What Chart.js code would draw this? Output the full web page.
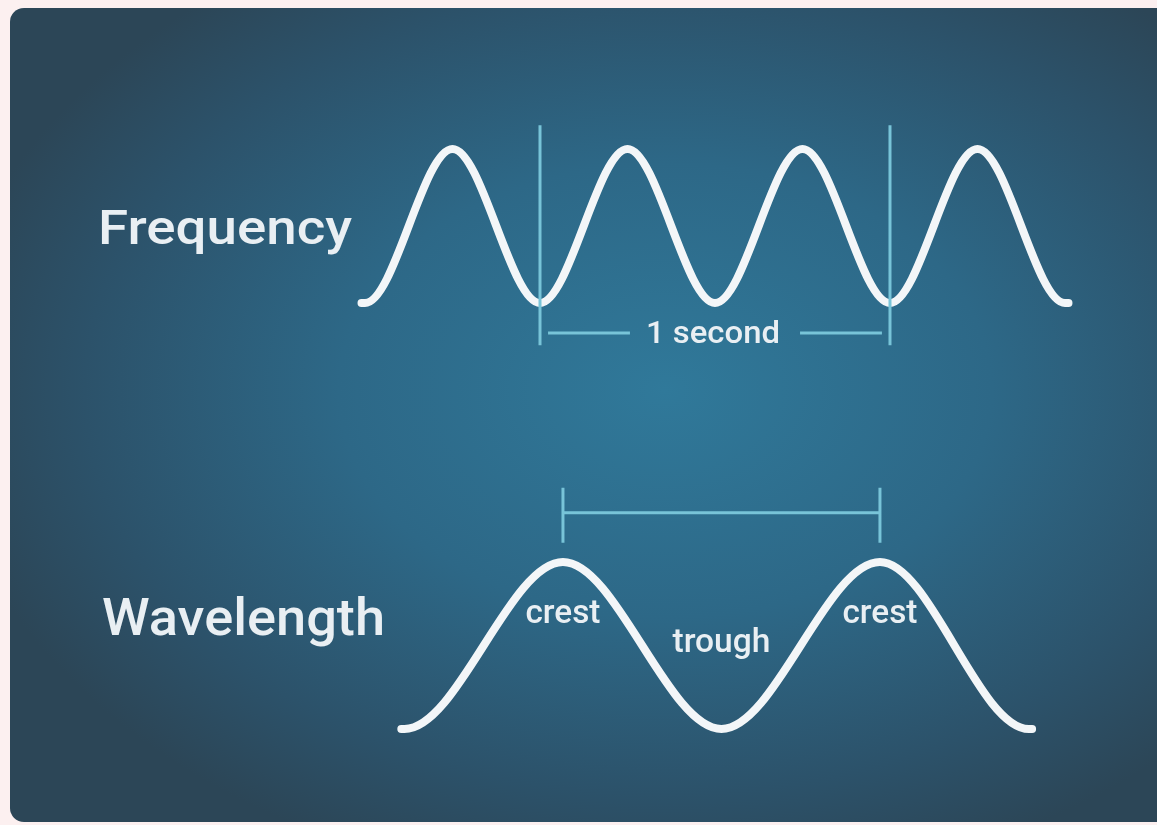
<!DOCTYPE html>
<html>
<head>
<meta charset="utf-8">
<title>Frequency and Wavelength</title>
<script src="https://cdn.jsdelivr.net/npm/chart.js@4"></script>
<style>
    html, body {
        margin: 0;
        padding: 0;
        background: #fcf0f0;
        overflow: hidden;
    }
    #wrap {
        position: relative;
        width: 1157px;
        height: 825px;
    }
    #panel {
        position: absolute;
        left: 10px;
        top: 8px;
        width: 1170px;
        height: 814px;
        border-radius: 14px;
        background: radial-gradient(ellipse 62% 62% at 56% 47%, #30799a 0%, #2d6887 45%, #2c526a 80%, #2c4657 100%);
    }
    #chart {
        position: absolute;
        left: 0;
        top: 0;
    }
</style>
</head>
<body>
<div id="wrap">
    <div id="panel"></div>
    <canvas id="chart" width="1157" height="825"></canvas>
</div>
<script>
// Frequency wave: time in seconds, 2 cycles per second (ends level off in the trough)
const freqTime = [-0.51, -0.5, -0.25, 0, 0.25, 0.5, 0.75, 1, 1.25, 1.5, 1.51];
const freqAmp = [-1, -1, 1, -1, 1, -1, 1, -1, 1, -1, -1];

// Wavelength wave: distance in wavelengths
const waveDist = [-0.51, -0.5, 0, 0.5, 1, 1.47, 1.48];
const waveAmp = [-1, -1, 1, -1, 1, -1, -1];

// "1 second" marker (time axis)
const secondMarks = [0, 1];
const secondTop = 1.31;
const secondBottom = -1.55;
const secondLineY = -1.39;
const secondGap = [0.023, 0.257, 0.743, 0.977];

// wavelength bracket (distance axis)
const bracketMarks = [0, 1];
const bracketTop = 1.89;
const bracketBottom = 1.23;
const bracketLineY = 1.59;

const crestLabels = ['crest', 'trough', 'crest'];
const crestAt = [0, 0.5, 1];

const WHITE = '#f3f6f8';
const CYAN = '#78c4d8';

function toPoints(xs, ys) {
    return xs.map((x, i) => ({ x: x, y: ys[i] }));
}

function segment(points, xAxis, yAxis) {
    return {
        data: points,
        xAxisID: xAxis,
        yAxisID: yAxis,
        borderColor: CYAN,
        borderWidth: 3,
        pointRadius: 0,
        tension: 0,
        clip: false
    };
}

const datasets = [];

// marker lines first so the waves sit on top
secondMarks.forEach(t => {
    datasets.push(segment([{ x: t, y: secondTop }, { x: t, y: secondBottom }], 'xTime', 'yFreq'));
});
datasets.push(segment([{ x: secondGap[0], y: secondLineY }, { x: secondGap[1], y: secondLineY }], 'xTime', 'yFreq'));
datasets.push(segment([{ x: secondGap[2], y: secondLineY }, { x: secondGap[3], y: secondLineY }], 'xTime', 'yFreq'));

bracketMarks.forEach(d => {
    datasets.push(segment([{ x: d, y: bracketTop }, { x: d, y: bracketBottom }], 'xDist', 'yWave'));
});
datasets.push(segment([{ x: bracketMarks[0], y: bracketLineY }, { x: bracketMarks[1], y: bracketLineY }], 'xDist', 'yWave'));

datasets.push({
    label: 'Frequency',
    data: toPoints(freqTime, freqAmp),
    xAxisID: 'xTime',
    yAxisID: 'yFreq',
    borderColor: WHITE,
    borderWidth: 8,
    borderCapStyle: 'round',
    cubicInterpolationMode: 'monotone',
    pointRadius: 0,
    clip: false
});

datasets.push({
    label: 'Wavelength',
    data: toPoints(waveDist, waveAmp),
    xAxisID: 'xDist',
    yAxisID: 'yWave',
    borderColor: WHITE,
    borderWidth: 8,
    borderCapStyle: 'round',
    cubicInterpolationMode: 'monotone',
    pointRadius: 0,
    clip: false
});

// draw text squeezed or stretched to a given width
function fitText(ctx, text, x, y, width, size, align) {
    ctx.save();
    ctx.font = '500 ' + size + 'px Roboto, "Liberation Sans", sans-serif';
    const w = ctx.measureText(text).width;
    const sx = width / w;
    ctx.translate(x, y);
    ctx.scale(sx, 1);
    ctx.textAlign = align;
    ctx.textBaseline = 'alphabetic';
    ctx.fillStyle = '#e9eff3';
    ctx.fillText(text, 0, 0);
    ctx.restore();
}

const labelPlugin = {
    id: 'waveLabels',
    afterDatasetsDraw(chart) {
        const ctx = chart.ctx;
        const s = chart.scales;

        fitText(ctx, 'Frequency', 98, 244, 254, 48, 'left');
        fitText(ctx, 'Wavelength', 102, 635, 283, 52, 'left');

        fitText(ctx, '1 second', s.xTime.getPixelForValue(0.5) - 2, s.yFreq.getPixelForValue(secondLineY) + 10, 134, 31, 'center');

        crestLabels.forEach((txt, i) => {
            const x = s.xDist.getPixelForValue(crestAt[i]);
            const isTrough = txt === 'trough';
            const y = s.yWave.getPixelForValue(isTrough ? -0.08 : 0.27);
            fitText(ctx, txt, x, y, isTrough ? 98 : 75, 33, 'center');
        });
    }
};

new Chart(document.getElementById('chart'), {
    type: 'line',
    data: { datasets: datasets },
    options: {
        responsive: false,
        animation: false,
        events: [],
        layout: { padding: 0 },
        plugins: {
            legend: { display: false },
            tooltip: { enabled: false }
        },
        scales: {
            xTime: { type: 'linear', display: false, min: -1.5429, max: 1.7629 },
            yFreq: { type: 'linear', display: false, min: -7.779, max: 2.935 },
            xDist: { type: 'linear', display: false, min: -1.776, max: 1.874 },
            yWave: { type: 'linear', display: false, min: -2.150, max: 7.731 }
        }
    },
    plugins: [labelPlugin]
});
</script>
</body>
</html>
